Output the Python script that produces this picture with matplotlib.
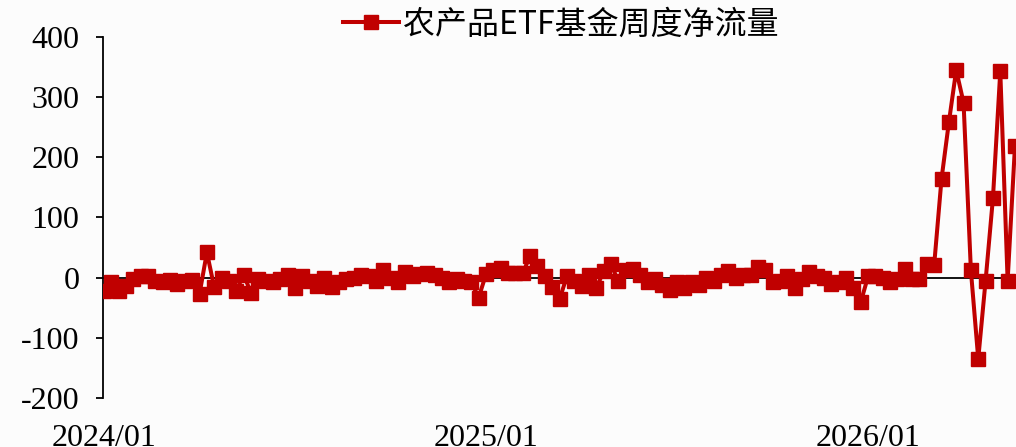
import matplotlib
matplotlib.use("Agg")
import matplotlib.pyplot as plt

values = [
    -22, -8, -22, -14, -2, 3, 2, -5, -7, -4,
    -10, -5, -4, -27, 42, -16, 0, -5, -22, 5,
    -25, -3, -5, -7, -3, 4, -17, 2, -5, -14,
    0, -16, -8, -3, 0, 5, 3, -5, 12, 0,
    -7, 10, 3, 6, 8, 5, 0, -8, -2, -5,
    -8, -33, 6, 13, 16, 8, 8, 8, 36, 20,
    3, -15, -36, 2, -5, -14, 5, -18, 11, 23,
    -6, 13, 14, 5, -7, -2, -12, -20, -8, -18,
    -8, -12, 0, -5, 4, 11, -1, 5, 4, 17,
    12, -8, -5, 2, -17, -3, 10, 3, 0, -11,
    -8, 0, -17, -41, 2, 3, 0, -8, -2, 15,
    -3, -2, 22, 21, 164, 258, 345, 291, 12, -135,
    -5, 132, 343, -5, 219,
]
tick_labels = ["2024/01", "2025/01", "2026/01"]
tick_index = [0, 52, 104]
series_name = "农产品ETF基金周度净流量"
yticks = [-200, -100, 0, 100, 200, 300, 400]

color = "#C00000"
bg = "#fcfcfc"

fig = plt.figure(figsize=(10.16, 4.47), dpi=100, facecolor=bg)
ax = fig.add_axes([103 / 1016, 1 - 398 / 447, 1 - 103 / 1016, (398 - 37) / 447])
ax.set_facecolor(bg)

x = list(range(len(values)))
ax.axhline(0, color="black", lw=1.3, zorder=1)
line, = ax.plot(x, values, color=color, lw=2.9, marker="s", markersize=10,
                markeredgecolor=color, markerfacecolor=color, zorder=3,
                label=series_name)

ax.set_ylim(-200, 400)
ax.set_xlim(-0.14, len(values) - 1 + 0.14)
ax.set_yticks(yticks)
ax.set_yticklabels([str(v) for v in yticks], fontfamily="Liberation Serif", fontsize=23)
ax.set_xticks(tick_index)
ax.set_xticklabels(tick_labels, fontfamily="Liberation Serif", fontsize=23)

for s in ["top", "right", "bottom"]:
    ax.spines[s].set_visible(False)
ax.spines["left"].set_linewidth(1.3)
ax.tick_params(axis="y", direction="out", length=5, width=1.3, pad=12)
ax.tick_params(axis="x", length=0, pad=19)

leg = fig.legend(handles=[line], loc="upper center", bbox_to_anchor=(0.552, 1.045),
                 frameon=False, handlelength=1.75, handletextpad=0.1,
                 prop={"family": ["Noto Sans CJK SC", "DejaVu Sans"], "size": 23})

fig.savefig("out.png", dpi=100, facecolor=bg)
